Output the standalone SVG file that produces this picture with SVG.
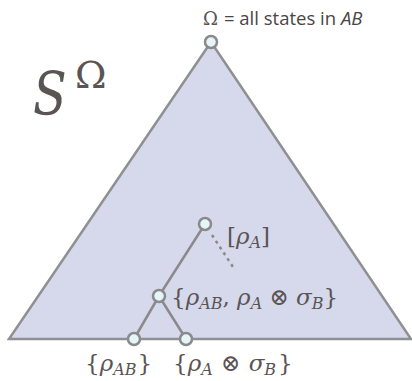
<svg xmlns="http://www.w3.org/2000/svg" width="412" height="381" viewBox="0 0 412 381">
<style>
.m{font-family:'DejaVu Serif','Liberation Serif',serif;fill:#5a5454}
.s{font-family:'Open Sans','Liberation Sans',sans-serif;fill:#4a4545}
.node{fill:#e6f5f8;stroke:#8a8a8c;stroke-width:2.5}
.edge{stroke:#8a8a8c;stroke-width:2.5;fill:none}
</style>
<rect width="412" height="381" fill="#fff"/>
<g id="triangle">
<polygon points="211,42 9,339 411,339" fill="#d6d9eb" stroke="#909092" stroke-width="2.5"/>
</g>
<g id="connectors">
<line class="edge" x1="205" y1="224" x2="159" y2="296"/>
<line class="edge" x1="159" y1="296" x2="134" y2="339"/>
<line class="edge" x1="159" y1="296" x2="186" y2="339"/>
<line class="edge" x1="212" y1="235" x2="235" y2="270" stroke-dasharray="3,4"/>
</g>
<g id="title">
<text class="m" transform="translate(33,115) scale(0.82,1)" font-size="60" font-style="italic">S</text>
<text class="m" x="75" y="88" font-size="38">Ω</text>
</g>
<g id="omega">
<circle class="node" cx="211" cy="42" r="6"/>
<text x="203" y="25"><tspan class="m" font-size="18">Ω</tspan><tspan class="s" font-size="18.5" dx="6">= all states in </tspan><tspan class="s" font-size="18.5" font-style="italic">AB</tspan></text>
</g>
<g id="rhoA">
<circle class="node" cx="205" cy="224" r="6"/>
<text class="m" x="227" y="244" font-size="23">[<tspan font-style="italic">ρ</tspan><tspan font-style="italic" font-size="16" dy="4">A</tspan><tspan dy="-4">]</tspan></text>
</g>
<g id="mid">
<circle class="node" cx="159" cy="296" r="6"/>
<text class="m" x="171" y="305" font-size="23">{<tspan font-style="italic">ρ</tspan><tspan font-style="italic" font-size="16" dy="4">AB</tspan><tspan dy="-4">, </tspan><tspan font-style="italic">ρ</tspan><tspan font-style="italic" font-size="16" dy="4">A</tspan><tspan dy="-4"> ⊗ </tspan><tspan font-style="italic">σ</tspan><tspan font-style="italic" font-size="16" dy="4">B</tspan><tspan dy="-4">}</tspan></text>
</g>
<g id="rhoAB">
<circle class="node" cx="134" cy="339" r="6"/>
<text class="m" x="85" y="371" font-size="23">{<tspan font-style="italic">ρ</tspan><tspan font-style="italic" font-size="16" dy="4">AB</tspan><tspan dy="-4" dx="1">}</tspan></text>
</g>
<g id="prod">
<circle class="node" cx="186" cy="339" r="6"/>
<text class="m" x="173" y="371" font-size="23">{<tspan font-style="italic">ρ</tspan><tspan font-style="italic" font-size="16" dy="4">A</tspan><tspan dy="-4" dx="1"> ⊗ </tspan><tspan font-style="italic" dx="1">σ</tspan><tspan font-style="italic" font-size="16" dy="4">B</tspan><tspan dy="-4" dx="2">}</tspan></text>
</g>
</svg>
